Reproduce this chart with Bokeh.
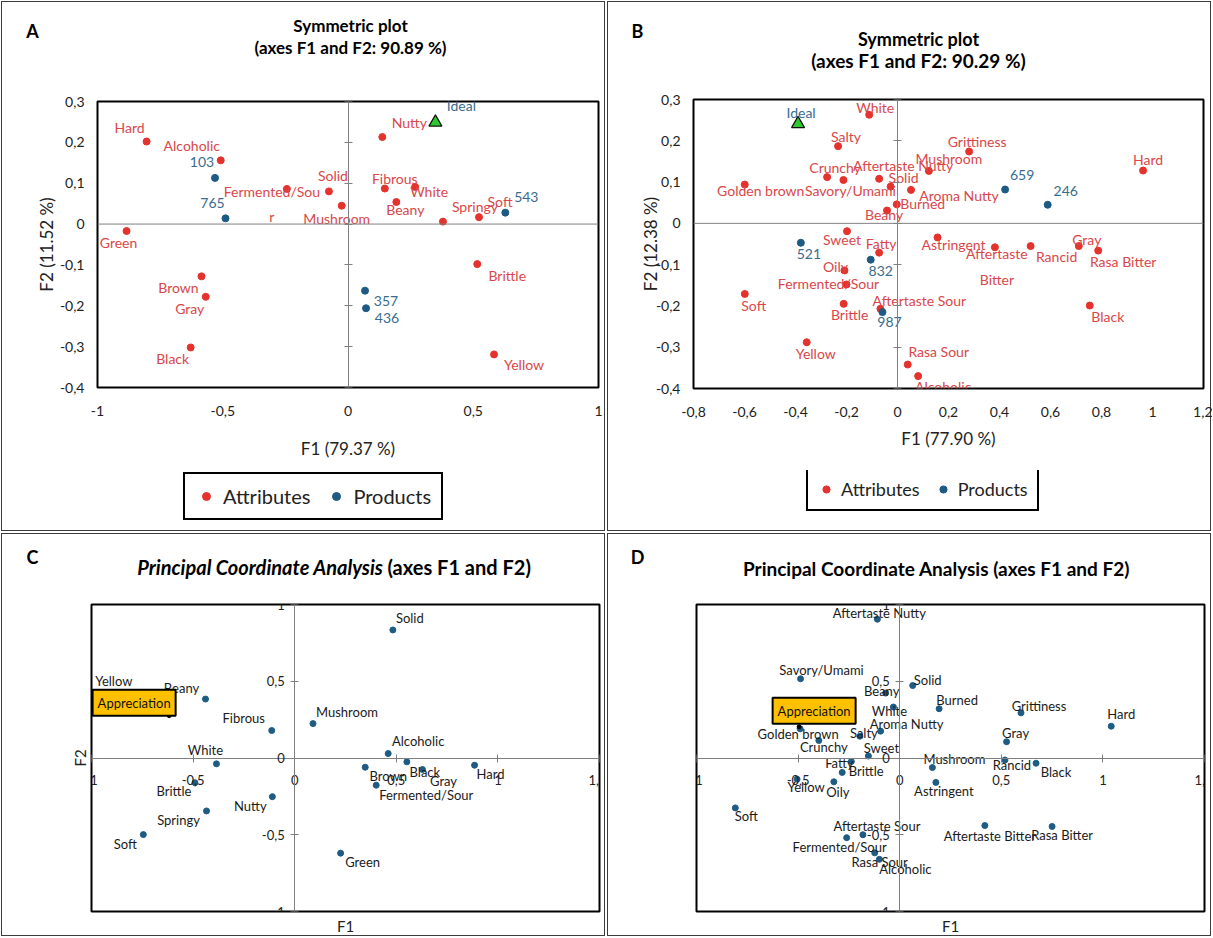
from bokeh.plotting import figure
from bokeh.models import (Range1d, LinearAxis, FixedTicker, CustomJSTickFormatter, Span,
                          Label, Legend, LegendItem, ColumnDataSource)
from bokeh.layouts import row, column
from bokeh.embed import file_html
from bokeh.resources import INLINE
from bokeh.core.properties import value

FONT = "Lato"

# ---------------- Panel A data ----------------
A_ATTR = ["Hard", "Alcoholic", "Fermented/Sour", "Solid", "Mushroom", "Nutty", "Fibrous", "White",
          "Beany", "Springy", "Soft", "Green", "Brown", "Gray", "Black", "Brittle", "Yellow"]
A_ATTR_F1 = [-0.804, -0.508, -0.244, -0.076, -0.025, 0.137, 0.147, 0.268,
             0.193, 0.379, 0.523, -0.884, -0.585, -0.568, -0.628, 0.516, 0.583]
A_ATTR_F2 = [0.202, 0.156, 0.086, 0.080, 0.045, 0.213, 0.087, 0.091,
             0.054, 0.006, 0.017, -0.017, -0.128, -0.178, -0.302, -0.098, -0.319]
A_PROD = ["103", "765", "543", "357", "436"]
A_PROD_F1 = [-0.531, -0.489, 0.628, 0.068, 0.072]
A_PROD_F2 = [0.113, 0.014, 0.028, -0.163, -0.206]
A_IDEAL = ["Ideal"]
A_IDEAL_F1 = [0.349]
A_IDEAL_F2 = [0.249]
A_XTICKS = [-1, -0.5, 0, 0.5, 1]
A_XLABELS = ["-1", "-0,5", "0", "0,5", "1"]
A_YTICKS = [0.3, 0.2, 0.1, 0, -0.1, -0.2, -0.3, -0.4]
A_YLABELS = ["0,3", "0,2", "0,1", "0", "-0,1", "-0,2", "-0,3", "-0,4"]

# ---------------- Panel B data ----------------
B_ATTR = ["White", "Salty", "Crunchy", "Savory/Umami", "Aftertaste Nutty", "Mushroom", "Grittiness",
          "Solid", "Golden brown", "Aroma Nutty", "Burned", "Beany", "Hard", "Sweet", "Fatty", "Oily",
          "Fermented/Sour", "Soft", "Brittle", "Aftertaste Sour", "Yellow", "Rasa Sour", "Alcoholic",
          "Astringent", "Aftertaste Bitter", "Rancid", "Gray", "Rasa Bitter", "Black"]
B_ATTR_F1 = [-0.111, -0.233, -0.276, -0.212, -0.072, 0.123, 0.281,
             -0.027, -0.599, 0.053, -0.003, -0.041, 0.963, -0.198, -0.072, -0.208,
             -0.200, -0.599, -0.211, -0.067, -0.356, 0.040, 0.081,
             0.157, 0.382, 0.522, 0.711, 0.787, 0.754]
B_ATTR_F2 = [0.263, 0.187, 0.112, 0.105, 0.108, 0.127, 0.174,
             0.089, 0.094, 0.081, 0.046, 0.031, 0.128, -0.019, -0.071, -0.114,
             -0.148, -0.171, -0.195, -0.207, -0.288, -0.342, -0.370,
             -0.034, -0.058, -0.055, -0.055, -0.066, -0.199]
B_PROD = ["659", "246", "521", "832", "987"]
B_PROD_F1 = [0.422, 0.589, -0.379, -0.105, -0.059]
B_PROD_F2 = [0.082, 0.045, -0.047, -0.088, -0.215]
B_IDEAL = ["Ideal"]
B_IDEAL_F1 = [-0.390]
B_IDEAL_F2 = [0.241]
B_XTICKS = [-0.8, -0.6, -0.4, -0.2, 0, 0.2, 0.4, 0.6, 0.8, 1, 1.2]
B_XLABELS = ["-0,8", "-0,6", "-0,4", "-0,2", "0", "0,2", "0,4", "0,6", "0,8", "1", "1,2"]
B_YTICKS = [0.3, 0.2, 0.1, 0, -0.1, -0.2, -0.3, -0.4]
B_YLABELS = ["0,3", "0,2", "0,1", "0", "-0,1", "-0,2", "-0,3", "-0,4"]

# ---------------- Panel C data ----------------
C_NAMES = ["Solid", "Mushroom", "Alcoholic", "Brown", "Fermented/Sour", "Black", "Gray", "Hard",
           "Green", "Beany", "Yellow", "Fibrous", "White", "Brittle", "Springy", "Soft", "Nutty"]
C_F1 = [0.483, 0.090, 0.460, 0.347, 0.401, 0.552, 0.629, 0.885,
        0.226, -0.439, -0.900, -0.113, -0.385, -0.491, -0.434, -0.745, -0.110]
C_F2 = [0.834, 0.224, 0.029, -0.060, -0.177, -0.025, -0.075, -0.047,
        -0.620, 0.384, 0.400, 0.179, -0.038, -0.161, -0.345, -0.499, -0.252]
C_APPR_F1 = [-0.618]
C_APPR_F2 = [0.276]

# ---------------- Panel D data ----------------
D_NAMES = ["Aftertaste Nutty", "Savory/Umami", "Solid", "Beany", "Burned", "White", "Aroma Nutty",
           "Golden brown", "Salty", "Crunchy", "Sweet", "Fatty", "Brittle", "Yellow", "Oily",
           "Mushroom", "Astringent", "Grittiness", "Hard", "Gray", "Rancid", "Black",
           "Aftertaste Bitter", "Rasa Bitter", "Soft", "Aftertaste Sour", "Fermented/Sour",
           "Rasa Sour", "Alcoholic"]
D_F1 = [-0.110, -0.488, 0.064, -0.069, 0.194, -0.031, -0.094,
        -0.490, -0.196, -0.398, -0.154, -0.238, -0.283, -0.505, -0.324,
        0.161, 0.178, 0.597, 1.041, 0.526, 0.518, 0.671,
        0.419, 0.750, -0.809, -0.181, -0.261,
        -0.123, -0.100]
D_F2 = [0.904, 0.516, 0.472, 0.423, 0.321, 0.332, 0.175,
        0.190, 0.142, 0.114, 0.013, -0.023, -0.094, -0.138, -0.155,
        -0.062, -0.159, 0.294, 0.207, 0.106, -0.013, -0.034,
        -0.440, -0.446, -0.325, -0.500, -0.519,
        -0.618, -0.660]
D_APPR_F1 = [-0.495]
D_APPR_F2 = [0.203]

CD_XTICKS = [-1, -0.5, 0, 0.5, 1, 1.5]
CD_XLABELS = ["-1", "-0,5", "0", "0,5", "1", "1,5"]
CD_YTICKS = [1, 0.5, 0, -0.5, -1]
CD_YLABELS = ["1", "0,5", "0", "-0,5", "-1"]

# ---------------- label placement (pixels, label centre relative to point) ----------------
A_ATTR_OFF = [(-17, -14), (-29, -15), (-15, 15), (4, -16), (-5, 13), (27, -15), (10, -10), (14, 5),
              (9, 7), (32, -15), (21, -16), (-8, 11), (-23, 11), (-16, 12), (-18, 11), (30, 11), (30, 10)]
A_PROD_OFF = [(-13, -16), (-13, -15), (21, -16), (21, 10), (21, 10)]
A_IDEAL_OFF = [(26, -17)]
A_WRAP = {"Fermented/Sour": "Fermented/Sou\nr"}

B_ATTR_OFF = [(6, -7), (8, -10), (8, -10), (7, 10), (24, -13), (20, -12), (8, -10),
              (13, -9), (16, 6), (48, 6), (26, -1), (-3, 4), (5, -11), (-5, 8), (2, -9), (-9, -4),
              (-18, -1), (9, 12), (6, 11), (39, -8), (9, 11), (31, -13), (25, 10),
              (16, 7), (2, 19), (26, 10), (8, -7), (25, 11), (18, 11)]
B_PROD_OFF = [(17, -15), (18, -14), (8, 11), (10, 11), (7, 10)]
B_IDEAL_OFF = [(3, -11)]
B_WRAP = {"Aftertaste Bitter": "Aftertaste\nBitter"}

C_OFF = [(17, -12), (34, -12), (30, -13), (23, 9), (50, 10), (18, 10), (21, 11), (16, 9),
         (22, 9), (-24, -11), (2, -16), (-28, -13), (-11, -14), (-21, 8), (-28, 9), (-18, 9), (-22, 9)]
D_OFF = [(2, -6), (21, -9), (15, -6), (-4, -2), (18, -9), (-4, 4), (26, -7),
         (-2, 5), (4, -3), (5, 6), (13, -8), (-12, 1), (24, -1), (9, 8), (4, 10),
         (22, -9), (8, 9), (18, -7), (10, -12), (9, -9), (7, 5), (20, 9),
         (5, 10), (10, 9), (11, 8), (14, -9), (-7, 9),
         (5, 9), (26, 10)]

RED_DOT = "#E5322D"
RED_TXT = "#D9474A"
BLUE_DOT = "#1D5A84"
BLUE_TXT = "#3A6C8E"
PCO_DOT = "#1F5C84"
AXIS_GREY = "#808080"
PANEL_STYLE = {"outline": "1.5px solid #3c3c3c", "outline-offset": "-2px"}

FMT_CODE = """
for (let i = 0; i < tk.length; i++) {
  if (Math.abs(tk[i] - tick) < 1e-9) { return lb[i]; }
}
return "";
"""


def fmt(ticks, labels):
    return CustomJSTickFormatter(args=dict(tk=list(ticks), lb=list(labels)), code=FMT_CODE)


def blank_fmt():
    return CustomJSTickFormatter(code="return '';")


def strip(w, h):
    """A plain drawing area whose data units are pixels (y downwards)."""
    s = figure(width=w, height=h, x_range=Range1d(0, w), y_range=Range1d(h, 0),
               output_backend="svg", toolbar_location=None, min_border=0,
               x_axis_type=None, y_axis_type=None, frame_align=False)
    s.outline_line_color = None
    s.background_fill_color = None
    s.border_fill_color = None
    return s


def txt(s, x, y, text, size, style="normal", color="black", align="center"):
    s.add_layout(Label(x=x, y=y, text=text, text_font=FONT, text_font_size=size,
                       text_font_style=style, text_color=color, text_align=align,
                       text_baseline="middle"))


def plot_fig(w, h, frame, xr, yr):
    l, t, r, b = frame
    p = figure(width=w, height=h, x_range=Range1d(*xr), y_range=Range1d(*yr),
               output_backend="svg", toolbar_location=None, frame_align=False,
               min_border_left=l, min_border_top=t, min_border_right=w - r, min_border_bottom=h - b)
    p.xgrid.visible = False
    p.ygrid.visible = False
    p.outline_line_color = "black"
    p.outline_line_width = 2
    p.background_fill_color = "white"
    p.border_fill_color = None
    return p


def point_labels(p, xs, ys, names, offs, color, size, wrap=None):
    wrap = wrap or {}
    src = ColumnDataSource(dict(x=xs, y=ys, text=[wrap.get(n, n) for n in names],
                                dx=[o[0] for o in offs], dy=[o[1] for o in offs]))
    p.text(x="x", y="y", text="text", x_offset="dx", y_offset="dy", source=src,
           text_font=value(FONT), text_font_size=size, text_color=color,
           text_align="center", text_baseline="middle", text_line_height=1.5)


def symmetric_plot(w, h, frame, xr, yr, attr, ax1, ax2, aoff, prod, px1, px2, poff,
                   ideal, ix1, ix2, ioff, xt, xl, yt, yl, wrap, xlab, ylab, xstand, ystand):
    p = plot_fig(w, h, frame, xr, yr)
    p.xaxis.ticker = FixedTicker(ticks=xt)
    p.xaxis.formatter = fmt(xt, xl)
    p.yaxis.ticker = FixedTicker(ticks=yt)
    p.yaxis.formatter = fmt(yt, yl)
    for ax in (p.xaxis[0], p.yaxis[0]):
        ax.axis_line_color = None
        ax.major_tick_line_color = None
        ax.minor_tick_line_color = None
        ax.major_tick_out = 0
        ax.major_tick_in = 0
        ax.major_label_text_font = FONT
        ax.major_label_text_font_size = "14px"
        ax.major_label_text_color = "#222222"
        ax.axis_label_text_font = FONT
        ax.axis_label_text_font_size = "17px"
        ax.axis_label_text_font_style = "normal"
        ax.axis_label_text_color = "#222222"
    p.xaxis.major_label_standoff = 18
    p.yaxis.major_label_standoff = 13
    p.xaxis.axis_label = xlab
    p.yaxis.axis_label = ylab
    p.xaxis.axis_label_standoff = xstand
    p.yaxis.axis_label_standoff = ystand
    cax = LinearAxis(fixed_location=0, ticker=FixedTicker(ticks=yt), formatter=blank_fmt(),
                     major_tick_in=4, major_tick_out=4, axis_line_color=AXIS_GREY,
                     major_tick_line_color=AXIS_GREY, minor_tick_line_color=None)
    p.add_layout(cax, "left")
    p.add_layout(Span(location=0, dimension="width", line_color=AXIS_GREY, line_width=1))
    p.scatter(ax1, ax2, marker="circle", size=7, fill_color=RED_DOT, line_color=RED_DOT)
    p.scatter(px1, px2, marker="circle", size=7, fill_color=BLUE_DOT, line_color=BLUE_DOT)
    p.scatter(ix1, ix2, marker="triangle", size=13, fill_color="#2DC82D", line_color="#111111", line_width=1.2)
    point_labels(p, ax1, ax2, attr, aoff, RED_TXT, "14px", wrap)
    point_labels(p, px1, px2, prod, poff, BLUE_TXT, "14px")
    point_labels(p, ix1, ix2, ideal, ioff, BLUE_TXT, "14px")
    return p


def legend_strip(w, h, loc, font, padding, glyph_w, spacing):
    s = strip(w, h)
    # legend keys only: their single point lies outside the strip, so only the key glyph shows
    ra = s.scatter(x=[-50], y=[-50], marker="circle", size=7, fill_color=RED_DOT, line_color=RED_DOT)
    rp = s.scatter(x=[-50], y=[-50], marker="circle", size=7, fill_color=BLUE_DOT, line_color=BLUE_DOT)
    leg = Legend(items=[LegendItem(label="Attributes", renderers=[ra]),
                        LegendItem(label="Products", renderers=[rp])],
                 location=loc, orientation="horizontal",
                 border_line_color="black", border_line_width=2, border_line_alpha=1.0,
                 background_fill_alpha=1.0,
                 label_text_font=FONT, label_text_font_size=font, label_text_color="#222222",
                 padding=padding, spacing=spacing, glyph_width=glyph_w, label_standoff=6, margin=0)
    s.add_layout(leg, "center")
    return s


# ---------------- Panel A (page x 0..606, y 0..532) ----------------
tA = strip(606, 70)
txt(tA, 32, 30, "A", "18px", "bold")
txt(tA, 350, 25, "Symmetric plot", "17px", "bold")
txt(tA, 350, 47, "(axes F1 and F2: 90.89 %)", "17px", "bold")
pA = symmetric_plot(606, 400, (97, 31, 598, 317), (-1, 1), (-0.4, 0.3),
                    A_ATTR, A_ATTR_F1, A_ATTR_F2, A_ATTR_OFF,
                    A_PROD, A_PROD_F1, A_PROD_F2, A_PROD_OFF, A_IDEAL, A_IDEAL_F1, A_IDEAL_F2, A_IDEAL_OFF,
                    A_XTICKS, A_XLABELS, A_YTICKS, A_YLABELS, A_WRAP,
                    "F1 (79.37 %)", "F2 (11.52 %)", 19, 0)
lA = legend_strip(606, 62, (183, 12), "20px", 10, 22, 15)
panelA = column(tA, pA, lA, styles=PANEL_STYLE)

# ---------------- Panel B (page x 606..1212, y 0..532) ----------------
tB = strip(606, 78)
txt(tB, 31, 30, "B", "18px", "bold")
txt(tB, 312, 38, "Symmetric plot", "18px", "bold")
txt(tB, 312, 60, "(axes F1 and F2: 90.29 %)", "19px", "bold")
pB = symmetric_plot(606, 392, (87, 21, 597, 310), (-0.8, 1.2), (-0.4, 0.3),
                    B_ATTR, B_ATTR_F1, B_ATTR_F2, B_ATTR_OFF,
                    B_PROD, B_PROD_F1, B_PROD_F2, B_PROD_OFF, B_IDEAL, B_IDEAL_F1, B_IDEAL_F2, B_IDEAL_OFF,
                    B_XTICKS, B_XLABELS, B_YTICKS, B_YLABELS, B_WRAP,
                    "F1 (77.90 %)", "F2 (12.38 %)", 8, -8)
lB = legend_strip(606, 62, (200, 21), "18px", 9, 18, 14)
panelB = column(tB, pB, lB, styles=PANEL_STYLE)


# ---------------- Panels C / D ----------------
def pco_plot(w, h, frame, names, xs, ys, offs, appr_x, appr_y, appr_off, f2_label):
    p = plot_fig(w, h, frame, (-1, 1.5), (-1, 1))
    p.xaxis.ticker = FixedTicker(ticks=CD_XTICKS)
    p.xaxis.formatter = fmt(CD_XTICKS, CD_XLABELS)
    p.yaxis.ticker = FixedTicker(ticks=CD_YTICKS)
    p.yaxis.formatter = fmt(CD_YTICKS, CD_YLABELS)
    for ax in (p.xaxis[0], p.yaxis[0]):
        ax.fixed_location = 0
        ax.axis_line_color = AXIS_GREY
        ax.major_tick_line_color = AXIS_GREY
        ax.minor_tick_line_color = None
        ax.major_tick_in = 4
        ax.major_tick_out = 4
        ax.major_label_text_font = FONT
        ax.major_label_text_font_size = "13px"
        ax.major_label_text_color = "#222222"
    p.xaxis.major_label_standoff = 13
    p.yaxis.major_label_standoff = 6
    f1 = LinearAxis(ticker=FixedTicker(ticks=[]), axis_line_color=None, major_tick_line_color=None,
                    minor_tick_line_color=None, axis_label="F1", axis_label_standoff=5,
                    axis_label_text_font=FONT, axis_label_text_font_size="15px",
                    axis_label_text_font_style="normal", axis_label_text_color="#222222")
    p.add_layout(f1, "below")
    if f2_label:
        f2 = LinearAxis(ticker=FixedTicker(ticks=[]), axis_line_color=None, major_tick_line_color=None,
                        minor_tick_line_color=None, axis_label="F2", axis_label_standoff=3,
                        axis_label_text_font=FONT, axis_label_text_font_size="15px",
                        axis_label_text_font_style="normal", axis_label_text_color="#222222")
        p.add_layout(f2, "left")
    p.scatter(xs, ys, marker="circle", size=6, fill_color=PCO_DOT, line_color=PCO_DOT)
    point_labels(p, xs, ys, names, offs, "#1a1a1a", "13px")
    p.scatter(appr_x, appr_y, marker="circle", size=4, fill_color="black", line_color="black")
    p.add_layout(Label(x=appr_x[0], y=appr_y[0], x_offset=appr_off[0], y_offset=-appr_off[1],
                       text="Appreciation", text_font=FONT, text_font_size="13px", text_color="#111111",
                       text_align="center", text_baseline="middle",
                       background_fill_color="#FFC000", border_line_color="black", border_line_width=2,
                       padding=5))
    return p


tC = strip(606, 58)
txt(tC, 32, 24, "C", "18px", "bold")
txt(tC, 383, 34, "Principal Coordinate Analysis", "20px", "bold italic", align="right")
txt(tC, 387, 34, "(axes F1 and F2)", "20px", "bold", align="left")
pC = pco_plot(606, 347, (91, 14, 599, 323), C_NAMES, C_F1, C_F2, C_OFF,
              C_APPR_F1, C_APPR_F2, (-35, -13), True)
panelC = column(tC, pC, styles=PANEL_STYLE)

tD = strip(606, 58)
txt(tD, 31, 24, "D", "18px", "bold")
txt(tD, 330, 36, "Principal Coordinate Analysis (axes F1 and F2)", "19px", "bold")
pD = pco_plot(606, 347, (90, 14, 598, 322), D_NAMES, D_F1, D_F2, D_OFF,
              D_APPR_F1, D_APPR_F2, (15, -16), False)
panelD = column(tD, pD, styles=PANEL_STYLE)

layout = column(row(panelA, panelB), row(panelC, panelD))
open("out.html", "w").write(file_html(layout, INLINE))
